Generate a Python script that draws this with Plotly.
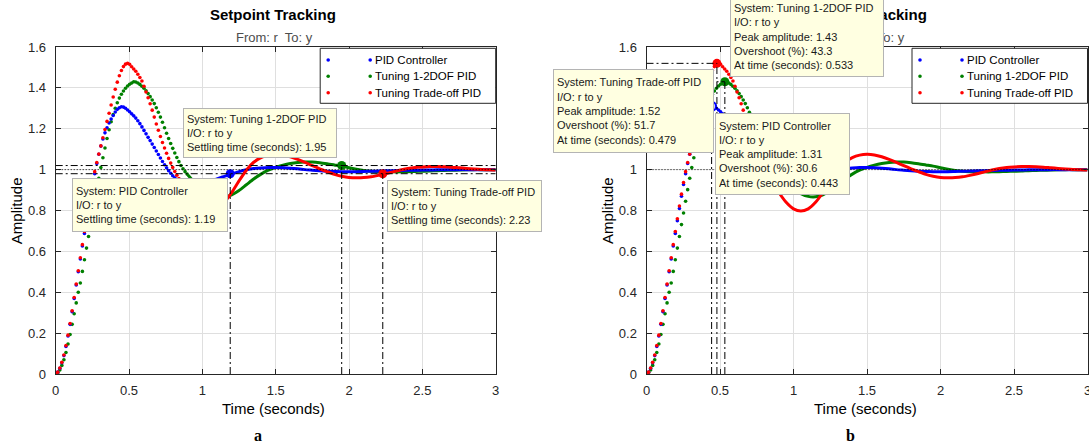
import plotly.graph_objects as go
import plotly.io as pio

pio.templates.default = "none"

W, H = 1089, 445
FONT = "Liberation Sans, Arial, Helvetica, sans-serif"

SYSTEMS = ["PID Controller", "Tuning 1-2DOF PID", "Tuning Trade-off PID"]
COLORS = ["#0000ff", "#008000", "#ff0000"]

# early response, sampled every DOT_STEP seconds (drawn as dots, like the source)
DOT_STEP = 0.014
pid_dots = [0, 0.009, 0.028, 0.055, 0.090, 0.135, 0.186, 0.243, 0.305, 0.370,
            0.436, 0.500, 0.563, 0.626, 0.688, 0.750, 0.810, 0.870, 0.927, 0.980,
            1.030, 1.075, 1.115, 1.150, 1.180, 1.205, 1.228, 1.248, 1.265, 1.282,
            1.295, 1.303, 1.308, 1.306, 1.300, 1.292, 1.283, 1.273, 1.263, 1.252,
            1.239, 1.225, 1.209, 1.192, 1.175, 1.158, 1.142, 1.125, 1.108, 1.091,
            1.074, 1.057, 1.040, 1.024, 1.009, 0.995, 0.982, 0.970, 0.960, 0.951,
            0.944, 0.937, 0.932, 0.928, 0.926]
dof_dots = [0, 0.006, 0.020, 0.042, 0.070, 0.105, 0.147, 0.193, 0.243, 0.295,
            0.348, 0.400, 0.445, 0.502, 0.559, 0.616, 0.673, 0.731, 0.788, 0.845,
            0.902, 0.958, 1.010, 1.058, 1.106, 1.152, 1.195, 1.234, 1.269, 1.300,
            1.327, 1.350, 1.369, 1.385, 1.398, 1.409, 1.418, 1.424, 1.430, 1.429,
            1.424, 1.417, 1.408, 1.398, 1.386, 1.372, 1.357, 1.341, 1.323, 1.303,
            1.281, 1.257, 1.232, 1.205, 1.178, 1.152, 1.128, 1.104, 1.081, 1.059,
            1.039, 1.020, 1.004, 0.990, 0.978]
trd_dots = [0, 0.009, 0.029, 0.057, 0.093, 0.139, 0.190, 0.247, 0.309, 0.374,
            0.440, 0.505, 0.569, 0.633, 0.697, 0.760, 0.822, 0.880, 0.937, 0.990,
            1.035, 1.076, 1.116, 1.156, 1.196, 1.236, 1.276, 1.316, 1.355, 1.393,
            1.428, 1.459, 1.485, 1.504, 1.516, 1.520, 1.515, 1.503, 1.492, 1.481,
            1.467, 1.451, 1.434, 1.408, 1.380, 1.352, 1.322, 1.291, 1.257, 1.223,
            1.193, 1.162, 1.133, 1.106, 1.080, 1.055, 1.032, 1.011, 0.991, 0.973,
            0.956, 0.940, 0.924, 0.908, 0.893]

# later response, sampled every TAIL_STEP seconds from TAIL_START (drawn as lines)
TAIL_START = 0.90
TAIL_STEP = 0.05
pid_tail = [0.926, 0.924, 0.928, 0.940, 0.955, 0.967, 0.979, 0.990, 0.999, 1.005,
            1.008, 1.010, 1.010, 1.009, 1.007, 1.004, 1.000, 0.997, 0.994, 0.992,
            0.991, 0.990, 0.990, 0.990, 0.991, 0.992, 0.993, 0.994, 0.995, 0.996,
            0.997, 0.997, 0.998, 0.998, 0.999, 0.999, 0.999, 1.000, 1.000, 1.000,
            1.000, 1.000, 1.000]
dof_tail = [0.975, 0.935, 0.905, 0.883, 0.869, 0.867, 0.877, 0.898, 0.926, 0.954,
            0.978, 0.997, 1.011, 1.022, 1.030, 1.035, 1.037, 1.037, 1.034, 1.029,
            1.023, 1.017, 1.009, 1.002, 0.996, 0.992, 0.990, 0.989, 0.989, 0.989,
            0.990, 0.991, 0.992, 0.993, 0.995, 0.996, 0.997, 0.998, 0.999, 1.000,
            1.000, 1.000, 1.000]
trd_tail = [0.888, 0.840, 0.808, 0.797, 0.808, 0.840, 0.888, 0.945, 0.997, 1.036,
            1.059, 1.071, 1.075, 1.072, 1.063, 1.050, 1.035, 1.019, 1.004, 0.990,
            0.977, 0.968, 0.962, 0.960, 0.961, 0.965, 0.972, 0.980, 0.989, 0.998,
            1.005, 1.010, 1.013, 1.015, 1.015, 1.014, 1.012, 1.009, 1.006, 1.003,
            1.001, 0.999, 0.998]

# characteristics (data tips)
settle_time = [1.19, 1.95, 2.23]
settle_amp = [0.98, 1.02, 0.98]
peak_amp = [1.31, 1.43, 1.52]
overshoot = [30.6, 43.3, 51.7]
peak_time = [0.443, 0.533, 0.479]
final_value = 1.0
settle_band = 0.02

x_ticks = [0, 0.5, 1, 1.5, 2, 2.5, 3]
x_labels = ["0", "0.5", "1", "1.5", "2", "2.5", "3"]
y_ticks = [0, 0.2, 0.4, 0.6, 0.8, 1.0, 1.2, 1.4, 1.6]
y_labels = ["0", "0.2", "0.4", "0.6", "0.8", "1", "1.2", "1.4", "1.6"]

dots = [pid_dots, dof_dots, trd_dots]
tails = [pid_tail, dof_tail, trd_tail]

# ---------------- layout geometry (pixels) ----------------
PANELS = [
    dict(xa="x", ya="y", left=55.7, right=495.7),
    dict(xa="x2", ya="y2", left=646.5, right=1087.5),
]
TOP, BOTTOM = 47.0, 374.0


def px(x):
    return x / W


def py(y):
    return 1 - y / H


fig = go.Figure()

draw_order = [1, 0, 2]
for p in PANELS:
    for i in draw_order:
        t = [k * DOT_STEP for k in range(len(dots[i]))]
        fig.add_trace(go.Scatter(
            x=t, y=dots[i], mode="markers", xaxis=p["xa"], yaxis=p["ya"],
            marker=dict(size=3.6, color=COLORS[i]), hoverinfo="skip",
            showlegend=False))
        t2 = [TAIL_START + k * TAIL_STEP for k in range(len(tails[i]))]
        fig.add_trace(go.Scatter(
            x=t2, y=tails[i], mode="lines", xaxis=p["xa"], yaxis=p["ya"],
            line=dict(color=COLORS[i], width=3, shape="spline", smoothing=0.7),
            hoverinfo="skip", showlegend=False))

# characteristic markers
fig.add_trace(go.Scatter(
    x=settle_time, y=settle_amp, mode="markers", xaxis="x", yaxis="y",
    marker=dict(size=9, color=COLORS), hoverinfo="skip", showlegend=False))
fig.add_trace(go.Scatter(
    x=peak_time, y=peak_amp, mode="markers", xaxis="x2", yaxis="y2",
    marker=dict(size=9, color=["#c8c8ff", COLORS[1], COLORS[2]],
                line=dict(color=COLORS, width=[2, 0, 0])),
    hoverinfo="skip", showlegend=False))

DASHDOT = "7px,3px,2px,3px"
DOTTED = "1px,2px"
shapes = []


def seg(xref, yref, x0, y0, x1, y1, dash):
    shapes.append(dict(type="line", xref=xref, yref=yref, x0=x0, y0=y0,
                       x1=x1, y1=y1, line=dict(color="#000000", width=1, dash=dash),
                       layer="above"))


# left panel: settling bands & lines
for yv in (final_value + settle_band, final_value - settle_band):
    seg("x", "y", 0, yv, 3, yv, DASHDOT)
seg("x", "y", 0, final_value, 3, final_value, DOTTED)
for i in range(3):
    seg("x", "y", settle_time[i], 0, settle_time[i], settle_amp[i], DASHDOT)

# right panel: peak lines
seg("x2", "y2", 0, final_value, 3, final_value, DOTTED)
for i in range(3):
    seg("x2", "y2", 0, peak_amp[i], peak_time[i], peak_amp[i], DASHDOT)
    seg("x2", "y2", peak_time[i], 0, peak_time[i], peak_amp[i], DASHDOT)

annotations = []

# titles
for p in PANELS:
    cx = (p["left"] + p["right"]) / 2
    annotations.append(dict(xref="paper", yref="paper", x=px(cx - 3), y=py(15),
                            xanchor="center", yanchor="middle", showarrow=False,
                            text="<b>Setpoint Tracking</b>",
                            font=dict(family=FONT, size=15, color="#000000")))
    annotations.append(dict(xref="paper", yref="paper", x=px(cx - 1), y=py(37.7),
                            xanchor="center", yanchor="middle", showarrow=False,
                            text="From: r  To: y",
                            font=dict(family=FONT, size=13, color="#4d4d4d")))
    annotations.append(dict(xref="paper", yref="paper", x=px(p["left"] - 39),
                            y=py((TOP + BOTTOM) / 2), xanchor="center",
                            yanchor="middle", showarrow=False, textangle=-90,
                            text="Amplitude",
                            font=dict(family=FONT, size=15, color="#000000")))
    annotations.append(dict(xref="paper", yref="paper", x=px(cx - 2), y=py(408.3),
                            xanchor="center", yanchor="middle", showarrow=False,
                            text="Time (seconds)",
                            font=dict(family=FONT, size=15, color="#000000")))

annotations.append(dict(xref="paper", yref="paper", x=px(258), y=py(435), xanchor="center",
                        yanchor="middle", showarrow=False, text="<b>a</b>",
                        font=dict(family="Liberation Serif, Times New Roman, serif",
                                  size=16, color="#000000")))
annotations.append(dict(xref="paper", yref="paper", x=px(850), y=py(435), xanchor="center",
                        yanchor="middle", showarrow=False, text="<b>b</b>",
                        font=dict(family="Liberation Serif, Times New Roman, serif",
                                  size=16, color="#000000")))

# legends (drawn by hand to match the source's two-dot icons)
LEG_TOP, LEG_BOT = 48.3, 103.3
ROWS = [60.0, 76.3, 92.7]
for p in PANELS:
    bl = p["right"] - 175.5
    br = p["right"]
    shapes.append(dict(type="rect", xref="paper", yref="paper", x0=px(bl), x1=px(br),
                       y0=py(LEG_BOT), y1=py(LEG_TOP), fillcolor="#ffffff",
                       line=dict(color="#262626", width=1), layer="above"))
    for i, ry in enumerate(ROWS):
        for dx in (8, 50):
            r = 1.8
            shapes.append(dict(type="circle", xref="paper", yref="paper",
                               x0=px(bl + dx - r), x1=px(bl + dx + r),
                               y0=py(ry + r), y1=py(ry - r),
                               fillcolor=COLORS[i], line=dict(width=0), layer="above"))
        annotations.append(dict(xref="paper", yref="paper", x=px(bl + 52.5), y=py(ry),
                                xanchor="left", yanchor="middle", showarrow=False,
                                text=SYSTEMS[i],
                                font=dict(family=FONT, size=11.5, color="#000000")))


def tip(text, left, top, w, h):
    return dict(xref="paper", yref="paper", x=px(left), y=py(top), xanchor="left",
                yanchor="top", text=text, showarrow=False, align="left",
                valign="middle", width=w - 8, height=h - 8, bgcolor="#ffffe1",
                bordercolor="#b4b4b4", borderwidth=1, borderpad=3,
                font=dict(family=FONT, size=11, color="#1a1a1a"))


def settle_text(i):
    return (f"System: {SYSTEMS[i]}<br>I/O: r to y<br>"
            f"Settling time (seconds): {settle_time[i]:g}")


def peak_text(i):
    return (f"System: {SYSTEMS[i]}<br>I/O: r to y<br>"
            f"Peak amplitude: {peak_amp[i]:g}<br>Overshoot (%): {overshoot[i]:g}<br>"
            f"At time (seconds): {peak_time[i]:g}")


annotations.append(tip(settle_text(1), 183, 108.3, 154, 50))
annotations.append(tip(settle_text(0), 72, 178.3, 155.7, 54))
annotations.append(tip(settle_text(2), 386.5, 180, 155, 52.3))
annotations.append(tip(peak_text(1), 730, -4, 154, 81.3))
annotations.append(tip(peak_text(2), 553, 69.3, 161, 84))
annotations.append(tip(peak_text(0), 715.3, 112.7, 134.7, 82.3))

axis_common = dict(
    showline=True, linecolor="#262626", linewidth=1, mirror="ticks",
    ticks="inside", ticklen=5, tickcolor="#262626", tickwidth=1,
    showgrid=True, gridcolor="#dfdfdf", gridwidth=1, zeroline=False,
    tickfont=dict(family=FONT, size=13, color="#262626"), automargin=False,
    ticklabeloverflow="allow",
)

layout = dict(
    width=W, height=H, margin=dict(l=0, r=0, t=0, b=0),
    paper_bgcolor="#ffffff", plot_bgcolor="#ffffff", showlegend=False,
    shapes=shapes, annotations=annotations,
)
for n, p in enumerate(PANELS):
    sx = "" if n == 0 else "2"
    layout["xaxis" + sx] = dict(axis_common, domain=[px(p["left"]), px(p["right"])],
                                range=[0, 3], tickvals=x_ticks, ticktext=x_labels,
                                anchor="y" + sx, ticklabelstandoff=4)
    layout["yaxis" + sx] = dict(axis_common, domain=[py(BOTTOM), py(TOP)],
                                range=[0, 1.6], tickvals=y_ticks, ticktext=y_labels,
                                anchor="x" + sx, ticklabelstandoff=6)

fig.update_layout(**layout)
fig.write_html("out.html", config={"displayModeBar": False},
               post_script="document.body.style.margin='0';"
                           "document.body.style.overflow='hidden';")
